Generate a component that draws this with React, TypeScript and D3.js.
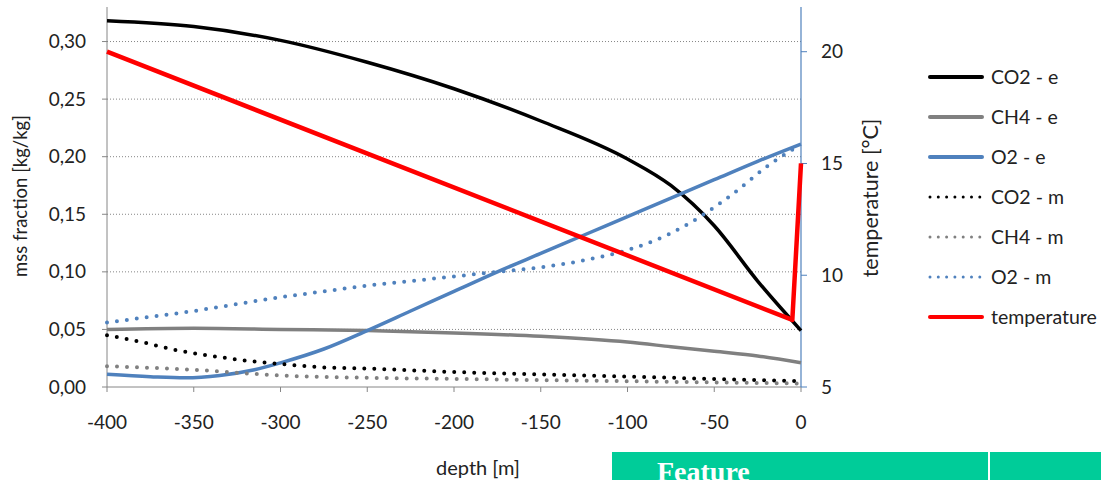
import React from "react";
import * as d3 from "d3";

const xTicks = [-400, -350, -300, -250, -200, -150, -100, -50, 0];
const leftTicks = [0, 0.05, 0.1, 0.15, 0.2, 0.25, 0.3];
const rightTicks = [5, 10, 15, 20];

const co2eDepth = [-400, -350, -300, -250, -200, -150, -100, -75, -50, -25, 0];
const co2eValues = [0.318, 0.313, 0.301, 0.282, 0.259, 0.231, 0.198, 0.175, 0.14, 0.092, 0.049];

const ch4eDepth = [-400, -350, -300, -250, -200, -150, -100, -75, -50, -25, 0];
const ch4eValues = [0.05, 0.051, 0.05, 0.049, 0.047, 0.044, 0.039, 0.035, 0.031, 0.027, 0.021];

const o2eDepth = [-400, -375, -355, -335, -315, -300, -275, -250, -225, -200, -175, -150, -125, -100, -75, -50, -25, 0];
const o2eValues = [0.011, 0.009, 0.008, 0.01, 0.015, 0.021, 0.033, 0.049, 0.066, 0.083, 0.1, 0.116, 0.132, 0.148, 0.164, 0.18, 0.196, 0.211];

const co2mDepth = [-400, -380, -360, -340, -320, -300, -275, -250, -200, -150, -100, -50, 0];
const co2mValues = [0.045, 0.039, 0.032, 0.027, 0.023, 0.02, 0.017, 0.016, 0.013, 0.011, 0.009, 0.007, 0.005];

const ch4mDepth = [-400, -350, -300, -250, -200, -150, -100, -50, 0];
const ch4mValues = [0.018, 0.015, 0.01, 0.008, 0.007, 0.006, 0.005, 0.004, 0.003];

const o2mDepth = [-400, -375, -350, -325, -300, -275, -250, -225, -200, -175, -150, -125, -100, -77, -58, -39, -20, -5, 0];
const o2mValues = [0.056, 0.061, 0.066, 0.072, 0.078, 0.083, 0.088, 0.092, 0.096, 0.1, 0.104, 0.11, 0.119, 0.132, 0.148, 0.168, 0.191, 0.206, 0.21];

const tempDepth = [-400, -5, 0];
const tempValues = [20, 8, 15];

const seriesNames = ["CO2 - e", "CH4 - e", "O2 - e", "CO2 - m", "CH4 - m", "O2 - m", "temperature"];

const FONT = "Lato, 'Open Sans', sans-serif";

export default function App() {
  const left = 107, right = 801, top = 7, bottom = 387;
  const x = d3.scaleLinear().domain([-400, 0]).range([left, right]);
  const yL = d3.scaleLinear().domain([0, 0.33]).range([bottom, top]);
  const yR = d3.scaleLinear().domain([5, 22]).range([bottom, top]);

  const zip = (a: number[], b: number[]) => a.map((v, i) => [v, b[i]] as [number, number]);

  const series = [
    { name: seriesNames[0], pts: zip(co2eDepth, co2eValues), color: "#000000", dotted: false, w: 3.5, ax: yL, linear: false },
    { name: seriesNames[1], pts: zip(ch4eDepth, ch4eValues), color: "#808080", dotted: false, w: 3.5, ax: yL, linear: false },
    { name: seriesNames[2], pts: zip(o2eDepth, o2eValues), color: "#4F81BD", dotted: false, w: 3.5, ax: yL, linear: false },
    { name: seriesNames[3], pts: zip(co2mDepth, co2mValues), color: "#000000", dotted: true, w: 4, ax: yL, linear: false },
    { name: seriesNames[4], pts: zip(ch4mDepth, ch4mValues), color: "#808080", dotted: true, w: 4, ax: yL, linear: false },
    { name: seriesNames[5], pts: zip(o2mDepth, o2mValues), color: "#4F81BD", dotted: true, w: 4, ax: yL, linear: false },
    { name: seriesNames[6], pts: zip(tempDepth, tempValues), color: "#FF0000", dotted: false, w: 4.5, ax: yR, linear: true },
  ];

  const fmt = (v: number) => v.toFixed(2).replace(".", ",");

  return (
    <svg width={1101} height={480} style={{ position: "absolute", left: 0, top: 0, background: "#fff" }} fontFamily={FONT}>
      <rect x={0} y={0} width={1101} height={480} fill="#fff" />
      {leftTicks.filter((t) => t > 0).map((t) => (
        <line key={"g" + t} x1={left} x2={right} y1={yL(t)} y2={yL(t)} stroke="#868686" strokeWidth={1} strokeDasharray="1 2" />
      ))}
      <line x1={left} x2={left} y1={top} y2={bottom} stroke="#868686" strokeWidth={1} />
      {leftTicks.map((t) => (
        <g key={"l" + t}>
          <line x1={left - 5} x2={left} y1={yL(t)} y2={yL(t)} stroke="#868686" />
          <text x={86} y={yL(t)} dy="0.35em" textAnchor="end" fontSize={19} fill="#222">{fmt(t)}</text>
        </g>
      ))}
      <line x1={left} x2={right} y1={bottom} y2={bottom} stroke="#868686" strokeWidth={1} />
      {xTicks.map((t) => (
        <g key={"x" + t}>
          <line x1={x(t)} x2={x(t)} y1={bottom} y2={bottom + 5} stroke="#868686" />
          <text x={x(t)} y={422} dy="0.35em" textAnchor="middle" fontSize={19} fill="#222">{t}</text>
        </g>
      ))}
      <line x1={right} x2={right} y1={top} y2={bottom} stroke="#4F81BD" strokeWidth={1.2} />
      {rightTicks.map((t) => (
        <g key={"r" + t}>
          <line x1={right} x2={right + 6} y1={yR(t)} y2={yR(t)} stroke="#4F81BD" />
          <text x={821} y={yR(t)} dy="0.35em" textAnchor="start" fontSize={19} fill="#222">{t}</text>
        </g>
      ))}
      <text transform={`translate(27,196) rotate(-90)`} textAnchor="middle" fontSize={18.5} fill="#222">mss fraction [kg/kg]</text>
      <text transform={`translate(878,198) rotate(-90)`} textAnchor="middle" fontSize={21.5} fill="#222">temperature [°C]</text>
      <text x={478} y={468} dy="0.35em" textAnchor="middle" fontSize={20} fill="#222">depth [m]</text>
      {series.map((s) => {
        const gen = d3.line<[number, number]>().x((d) => x(d[0])).y((d) => s.ax(d[1]))
          .curve(s.linear ? d3.curveLinear : d3.curveMonotoneX);
        return (
          <path key={s.name} d={gen(s.pts) || ""} fill="none" stroke={s.color} strokeWidth={s.w}
            strokeDasharray={s.dotted ? "0 10" : undefined} strokeLinecap={s.dotted ? "round" : "butt"} strokeLinejoin="round" />
        );
      })}
      {series.map((s, i) => {
        const ly = 77 + i * 40;
        return (
          <g key={"lg" + s.name}>
            <line x1={930} x2={982} y1={ly} y2={ly} stroke={s.color} strokeWidth={s.dotted ? 3 : 4}
              strokeDasharray={s.dotted ? "0 8.3" : undefined} strokeLinecap="round" />
            <text x={991} y={ly} dy="0.35em" fontSize={19.5} fill="#222">{s.name}</text>
          </g>
        );
      })}
      <rect x={612} y={452} width={489} height={28} fill="#00CC99" />
      <rect x={988} y={452} width={2} height={28} fill="#ffffff" />
      <text x={657} y={481} fontFamily="'Liberation Serif', 'Times New Roman', serif" fontWeight="bold" fontSize={28} fill="#ffffff">Feature</text>
    </svg>
  );
}
